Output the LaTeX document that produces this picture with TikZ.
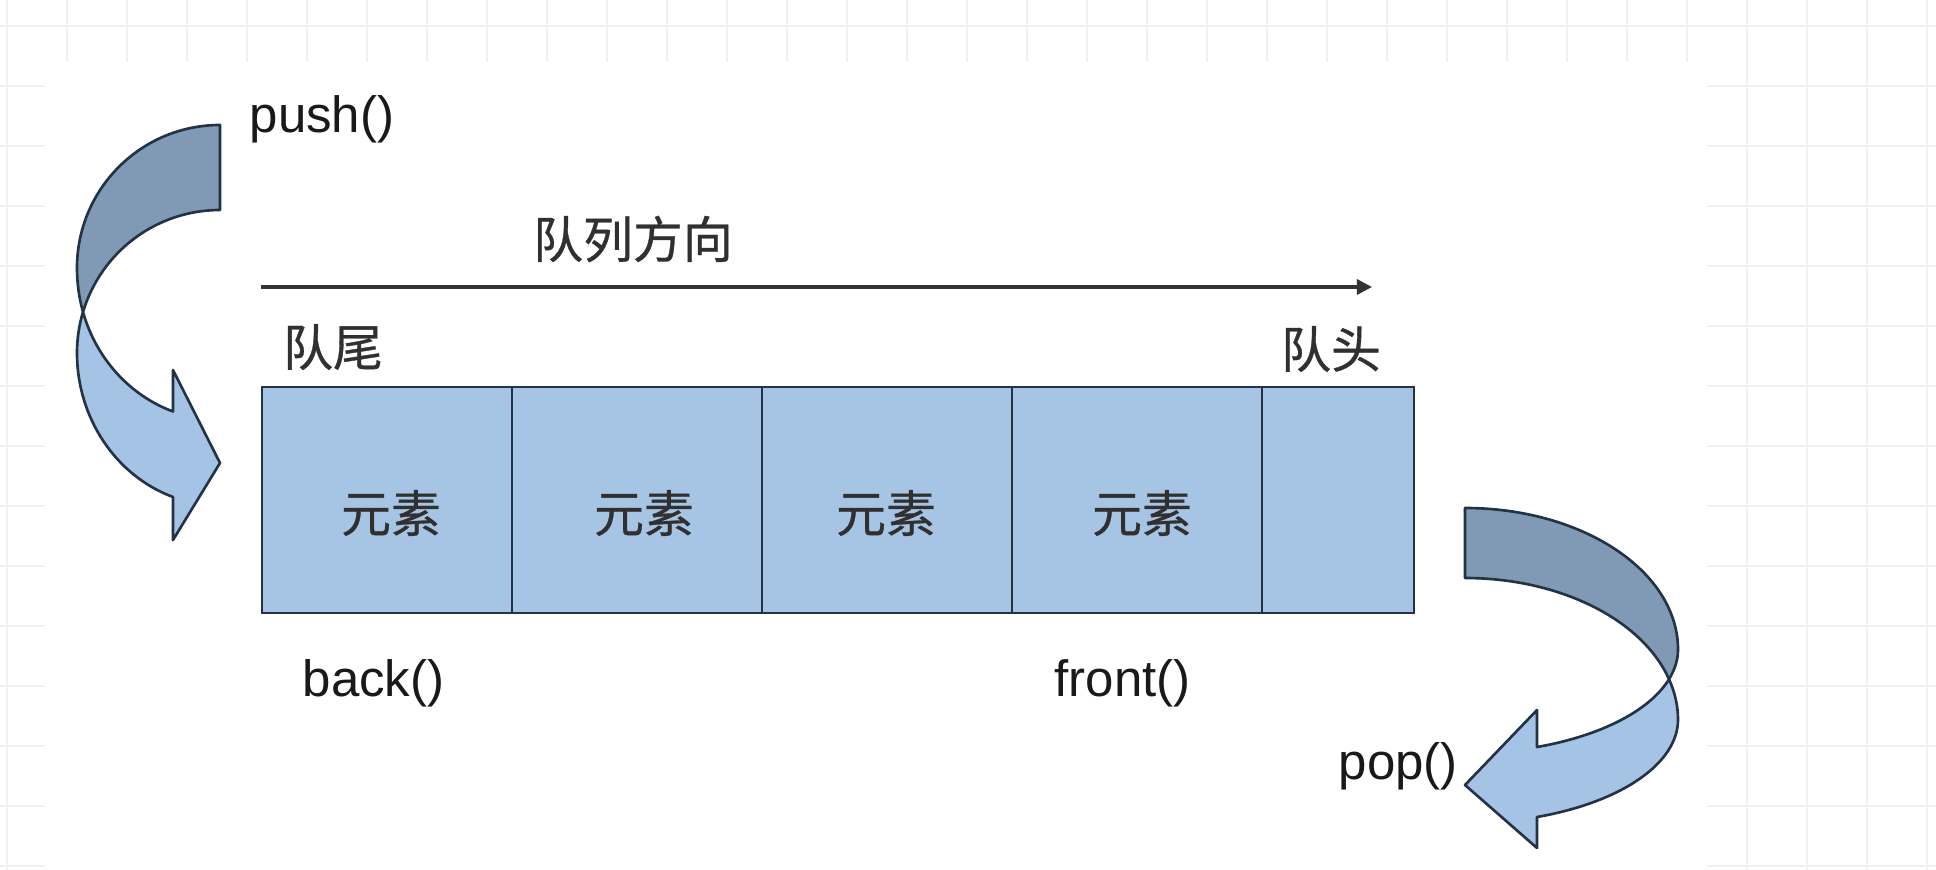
\documentclass[tikz,border=0pt]{standalone}
\usepackage{fontspec}
\setmainfont{Liberation Sans}
\newfontfamily\cjkfont[UprightFeatures={FakeBold=0.6}]{Noto Sans CJK SC}
\usetikzlibrary{arrows.meta}

\definecolor{gridline}{RGB}{243,240,243}
\definecolor{cellfill}{RGB}{166,196,228}
\definecolor{backface}{RGB}{128,153,181}
\definecolor{frontface}{RGB}{165,195,228}
\definecolor{edgeblue}{RGB}{35,50,68}
\definecolor{cjkgray}{RGB}{48,48,48}

\begin{document}
\begin{tikzpicture}[x=0.01cm, y=-0.01cm,
  cellbox/.style={draw=edgeblue, fill=cellfill, line width=0.8pt,
    minimum height=2.26cm, inner sep=0pt, outer sep=0pt},
  cjklabel/.style={font=\cjkfont\fontsize{14.2pt}{16pt}\selectfont,
    text=cjkgray, inner sep=0pt},
  funclabel/.style={font=\fontsize{14.5pt}{17pt}\selectfont,
    text=black!90, inner sep=0pt, anchor=base west},
  ribbon/.style={draw=edgeblue, line width=0.75pt, line join=round},
  dirline/.style={line width=0.9pt, draw=black!80,
    -{Triangle[length=4.3pt,width=4.3pt]}},
]
% canvas and squared paper behind the white sheet
\useasboundingbox[fill=white] (0,0) rectangle (1936,870);
\draw[gridline, line width=0.4pt]
  foreach \k in {0,...,32} {(7+60*\k,0) -- (7+60*\k,870)}
  foreach \k in {0,...,14} {(0,26+60*\k) -- (1936,26+60*\k)};
\fill[white] (45,62) rectangle (1707,870);

% push(): curved ribbon arrow entering the tail
\filldraw[ribbon, fill=backface]
  (220,125) -- (220,210)
  .. controls (156.8,210) and (101.2,251.4) .. (83,312)
  .. controls (79,297.8) and (77,282.8) .. (77,268)
  .. controls (77,189) and (141,125) .. (220,125) -- cycle;
\filldraw[ribbon, fill=frontface]
  (83,312) .. controls (79,325.3) and (77,339.1) .. (77,353)
  .. controls (77,417.7) and (115.6,475.7) .. (173,497)
  -- (173,540) -- (220,463) -- (173,370) -- (173,411.5)
  .. controls (129.8,395.5) and (96.2,358.6) .. (83,312) -- cycle;

% pop(): curved ribbon arrow leaving the head
\filldraw[ribbon, fill=backface]
  (1465,508) .. controls (1582.6,508) and (1678,571.4) .. (1678,649.6)
  .. controls (1678,659.6) and (1674.9,669.6) .. (1669,679.2)
  .. controls (1642.1,619.2) and (1559.2,578) .. (1465,578) -- cycle;
\filldraw[ribbon, fill=frontface]
  (1669,679.2) .. controls (1674.9,692.3) and (1678,705.9) .. (1678,719.6)
  .. controls (1678,763.2) and (1621.5,802.2) .. (1537,817)
  -- (1537,848) -- (1465,785) -- (1537,710) -- (1537,747)
  .. controls (1600.6,735.9) and (1649.7,710.7) .. (1669,679.2) -- cycle;

% queue cells
\node[cellbox, minimum width=2.5cm]  (c1) at (387,500) {};
\node[cellbox, minimum width=2.5cm]  (c2) at (637,500) {};
\node[cellbox, minimum width=2.5cm]  (c3) at (887,500) {};
\node[cellbox, minimum width=2.5cm]  (c4) at (1137,500) {};
\node[cellbox, minimum width=1.52cm] (c5) at (1338,500) {};

\node[cjklabel] (e1) at (391,513)  {元素};
\node[cjklabel] (e2) at (644,513)  {元素};
\node[cjklabel] (e3) at (886,513)  {元素};
\node[cjklabel] (e4) at (1142,513) {元素};

% direction of the queue
\coordinate (dirstart) at (261,287);
\coordinate (dirend) at (1372,287);
\draw[dirline] (dirstart) -- (dirend);
\node[cjklabel] (dirlabel) at (633,239)  {队列方向};
\node[cjklabel] (tail)     at (333,347)  {队尾};
\node[cjklabel] (head)     at (1331,349) {队头};

% operations
\node[funclabel] (push)  at (249,133)  {push()};
\node[funclabel] (back)  at (302,696)  {back()};
\node[funclabel] (front) at (1054,696) {front()};
\node[funclabel] (pop)   at (1338,779) {pop()};
\end{tikzpicture}
\end{document}
